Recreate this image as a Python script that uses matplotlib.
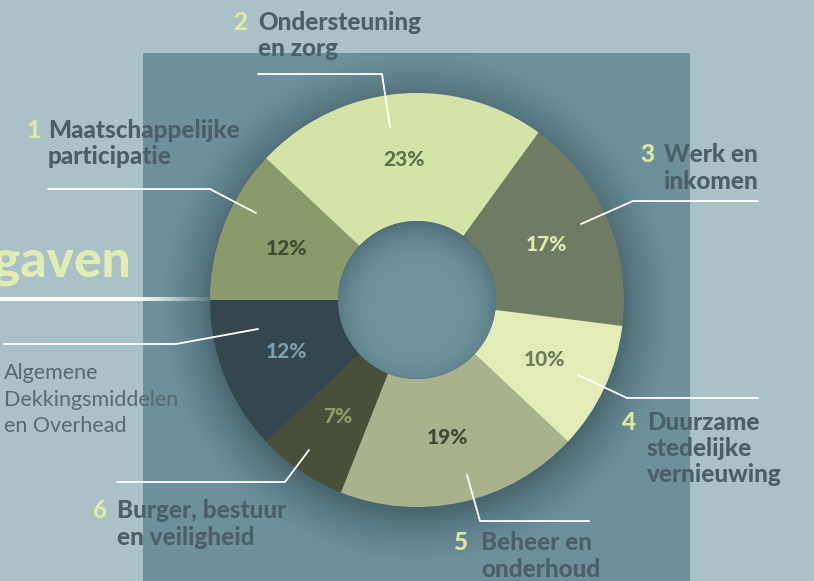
import numpy as np
import matplotlib.pyplot as plt
from matplotlib.patches import Rectangle, Circle

# chart data
values = [12, 23, 17, 10, 19, 7, 12]
numbers = ["1", "2", "3", "4", "5", "6", ""]
labels = [
    "Maatschappelijke\nparticipatie",
    "Ondersteuning\nen zorg",
    "Werk en\ninkomen",
    "Duurzame\nstedelijke\nvernieuwing",
    "Beheer en\nonderhoud",
    "Burger, bestuur\nen veiligheid",
    "Algemene\nDekkingsmiddelen\nen Overhead",
]
colors = ["#8a9a6a", "#d4e4a8", "#6f7b62", "#e3ecb6", "#a8b28c", "#485039", "#34474f"]
pct_colors = ["#3f4a30", "#5f7048", "#e2ebb0", "#707a60", "#3f4632", "#8e9e68", "#7e9eb2"]
title = "Uitgaven"

W, H = 814, 581
BG = "#aac1c7"
RECT = "#6d909a"
TXT = "#4a5f68"
NUM = "#dde9a5"

plt.rcParams['font.family'] = ['Lato', 'DejaVu Sans']

fig = plt.figure(figsize=(W / 100, H / 100), dpi=100, facecolor=BG)
ax = fig.add_axes([0, 0, 1, 1])
ax.set_xlim(0, W)
ax.set_ylim(0, H)
ax.axis('off')

def py(y):
    # pixel row (from top) -> data y
    return H - y

ax.add_patch(Rectangle((143, 0), 547, py(53), facecolor=RECT, edgecolor='none', zorder=1))

cx, cy = 417, py(300)
r_out, r_in = 207, 79

# soft drop shadow around the ring
xx, yy = np.meshgrid(np.arange(W) + 0.5, np.arange(H) + 0.5)
d = np.hypot(xx - cx, yy - (cy - 7))
a = 0.55 * np.clip((262 - d) / 58, 0, 1) ** 1.6
shadow = np.zeros((H, W, 4))
shadow[..., :3] = np.array([0x2c, 0x46, 0x50]) / 255
shadow[..., 3] = a
inside_rect = (xx >= 143) & (xx <= 690) & (yy <= py(53))
shadow[..., 3] *= inside_rect
ax.imshow(shadow, extent=(0, W, 0, H), origin='lower', zorder=2, interpolation='bilinear')

# title and white bar with fading end
ax.text(131, py(262), title, ha='right', va='center', fontsize=37, fontweight=900,
        color="#e2edb4", zorder=3)
bx = np.linspace(0, 209, 400)
bar = np.ones((1, bx.size, 4))
bar[0, :, 3] = np.where(bx < 143, 0.95, np.clip(0.95 - (bx - 143) / 75, 0.12, 1))
ax.imshow(bar, extent=(0, 209, py(301), py(297)), origin='lower', aspect='auto',
          zorder=3, interpolation='bilinear')

wedges, _, pcts = ax.pie(
    values, colors=colors, startangle=180, counterclock=False,
    radius=r_out, center=(cx, cy), frame=False,
    wedgeprops=dict(width=r_out - r_in, edgecolor='none', linewidth=0),
    autopct='%d%%', pctdistance=0.68,
    textprops=dict(fontsize=15, fontweight=900),
)
for w in wedges:
    w.set_zorder(4)
for t, c in zip(pcts, pct_colors):
    t.set_color(c)
    t.set_zorder(6)
ax.set_xlim(0, W)
ax.set_ylim(0, H)
ax.set_aspect('equal')

# hole with inner shadow
hole = np.zeros((H, W, 4))
d2 = np.hypot(xx - cx, yy - (cy - 9))
ish = 0.6 * np.clip((d2 - 45) / 42, 0, 1) ** 2
light = np.array([0x6e, 0x92, 0x9c]) / 255
dark = np.array([0x3c, 0x58, 0x62]) / 255
hole[..., :3] = light * (1 - ish[..., None]) + dark * ish[..., None]
hole[..., 3] = 1
im = ax.imshow(hole, extent=(0, W, 0, H), origin='lower', zorder=5, interpolation='bilinear')
im.set_clip_path(Circle((cx, cy), r_in, transform=ax.transData))

# leader lines (pixel coords from top)
leaders = [
    [(256, 213), (210, 189), (48, 189)],
    [(390, 127), (382, 74), (258, 74)],
    [(581, 224), (633, 201), (758, 201)],
    [(578, 375), (627, 398), (758, 398)],
    [(467, 475), (480, 521), (589, 521)],
    [(309, 450), (285, 482), (117, 482)],
    [(258, 329), (176, 344), (4, 344)],
]
for pts in leaders:
    ax.plot([p[0] for p in pts], [py(p[1]) for p in pts], color='white', lw=1.3,
            zorder=7, solid_capstyle='round')

# category labels: number x, text x, first line y
anchors = [
    (27, 48, 130), (233, 258, 22), (640, 664, 155), (621, 647, 422),
    (453, 481, 543), (92, 117, 511), (None, 4, 373),
]
step = 26.5
for num, lab, (nx, tx, y0) in zip(numbers, labels, anchors):
    bold = num != ""
    if bold:
        ax.text(nx, py(y0), num, ha='left', va='center', fontsize=17.5,
                fontweight=900, color=NUM, zorder=8)
    for k, line in enumerate(lab.split("\n")):
        ax.text(tx, py(y0 + k * step), line, ha='left', va='center',
                fontsize=17.5 if bold else 15.5, fontweight=900 if bold else 'normal',
                color=TXT if bold else "#556a72", zorder=8)

fig.savefig("out.png", dpi=100, facecolor=BG)
